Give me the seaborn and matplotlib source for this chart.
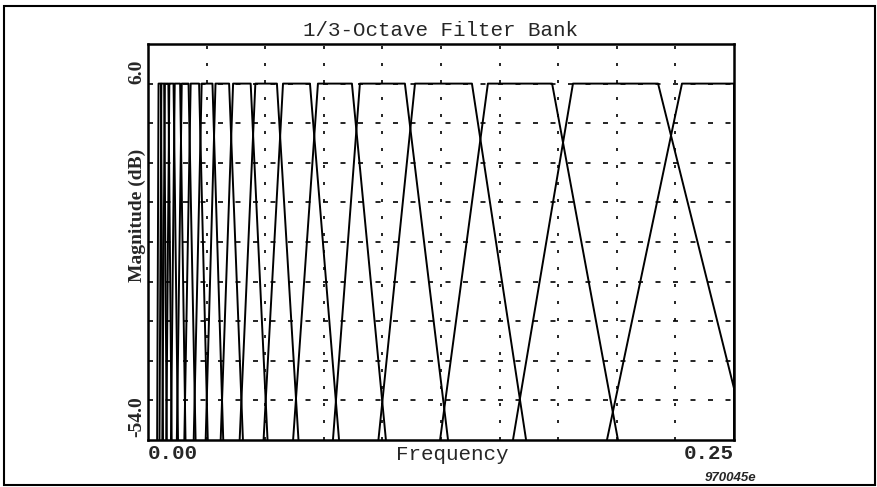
import numpy as np
import pandas as pd
import matplotlib
matplotlib.use('Agg')
import matplotlib.pyplot as plt
import matplotlib.transforms as mtransforms
from matplotlib.patches import Rectangle
import seaborn as sns

# --- Data ---
# Each 1/3-octave band is a trapezoid: lower foot, lower corner, upper corner, upper foot
# (normalised frequency). The last band is the high-pass one that stays flat to the edge.
LO_FOOT = [0.0039, 0.0049, 0.0061, 0.0078, 0.0098, 0.0123, 0.0155, 0.0195, 0.0246,
           0.0310, 0.0391, 0.0493, 0.0619, 0.0789, 0.0983, 0.1246, 0.1557, 0.1958]
LO_TOP = [0.0045, 0.0057, 0.0072, 0.0091, 0.0114, 0.0144, 0.0182, 0.0229, 0.0288,
          0.0363, 0.0458, 0.0576, 0.0725, 0.0904, 0.1139, 0.1450, 0.1813, 0.2278]
HI_TOP = [0.0055, 0.0069, 0.0087, 0.0109, 0.0137, 0.0173, 0.0218, 0.0275, 0.0346,
          0.0438, 0.0550, 0.0691, 0.0870, 0.1096, 0.1382, 0.1724, 0.2176, 0.2500]
HI_FOOT = [0.0064, 0.0080, 0.0101, 0.0128, 0.0160, 0.0203, 0.0255, 0.0321, 0.0405,
           0.0510, 0.0642, 0.0815, 0.1015, 0.1280, 0.1613, 0.2005, 0.2555, 0.2500]
BAND_LEVELS = [-61.5, 6.0, 6.0, -61.5]   # dB at foot, corner, corner, foot

X_TICKS = [0.0, 0.25]
X_TICK_LABELS = ['0.00', '0.25']
Y_TICKS = [6.0, -54.0]
Y_TICK_LABELS = ['6.0', '-54.0']
X_GRID = [0.025, 0.05, 0.075, 0.1, 0.125, 0.15, 0.175, 0.2, 0.225]
Y_GRID = [6.0, -1.5, -9.0, -16.5, -24.0, -31.5, -39.0, -46.5, -54.0]

MONO = 'Liberation Mono'
SERIF = 'Liberation Serif'


def build_frame():
    rows = []
    for i in range(len(LO_FOOT)):
        xs = [LO_FOOT[i], LO_TOP[i], HI_TOP[i], HI_FOOT[i]]
        for j, (x, y) in enumerate(zip(xs, BAND_LEVELS)):
            rows.append({'band': i, 'order': j, 'freq': x, 'mag': y})
    return pd.DataFrame(rows)


def main():
    sns.set_theme(style='white')
    df = build_frame()

    fig = plt.figure(figsize=(8.78, 4.87), dpi=100)
    ax = fig.add_axes([148 / 878, 47 / 487, 586 / 878, 396 / 487])

    # grid: dotted verticals, dashed horizontals
    for x in X_GRID:
        ax.axvline(x, color='black', lw=1.2, linestyle=(0, (1.8, 8.4)), zorder=1)
    for y in Y_GRID:
        ax.axhline(y, color='black', lw=1.2, linestyle=(0, (3.0, 7.5)), zorder=1)

    sns.lineplot(data=df, x='freq', y='mag', units='band', estimator=None,
                 sort=False, color='black', lw=1.4, ax=ax, zorder=3)

    ax.set_xlim(0, 0.25)
    ax.set_ylim(-61.5, 13.5)

    for s in ax.spines.values():
        s.set_color('black')
        s.set_linewidth(1.8)

    ax.set_xticks(X_TICKS)
    ax.set_xticklabels(X_TICK_LABELS, family=MONO, fontsize=15, fontweight='bold')
    ax.set_yticks(Y_TICKS)
    ax.set_yticklabels(Y_TICK_LABELS, family=SERIF, fontsize=14, fontweight='bold',
                       rotation=90, va='center')
    ax.tick_params(axis='x', length=0, pad=3)
    ax.tick_params(axis='y', length=0, pad=2)

    xl = ax.get_xticklabels()
    xl[0].set_ha('left')
    xl[1].set_ha('right')
    yl = ax.get_yticklabels()
    yl[0].set_transform(yl[0].get_transform() +
                        mtransforms.ScaledTranslation(0, 0.12, fig.dpi_scale_trans))
    yl[1].set_transform(yl[1].get_transform() +
                        mtransforms.ScaledTranslation(0, -0.165, fig.dpi_scale_trans))

    ax.set_xlabel('')
    ax.set_ylabel('')
    fig.text(452 / 878, 1 - 455 / 487, 'Frequency', family=MONO, fontsize=15,
             ha='center', va='center')
    fig.text(137 / 878, 1 - 215 / 487, 'Magnitude (dB)', family=SERIF, fontsize=14,
             fontweight='bold', rotation=90, ha='center', va='center')
    fig.text(441 / 878, 1 - 31 / 487, '1/3-Octave Filter Bank', family=MONO,
             fontsize=15, ha='center', va='center')
    fig.text(731 / 878, 1 - 478 / 487, '970045e', family='Liberation Sans',
             fontsize=9.5, fontweight='bold', style='italic', ha='center', va='center')

    # outer border around the whole figure
    fig.patches.append(Rectangle((4 / 878, 2 / 487), 871 / 878, 479 / 487,
                                 transform=fig.transFigure, fill=False,
                                 edgecolor='black', lw=1.5))

    fig.savefig('out.png', dpi=100)
    plt.close(fig)


if __name__ == '__main__':
    main()
